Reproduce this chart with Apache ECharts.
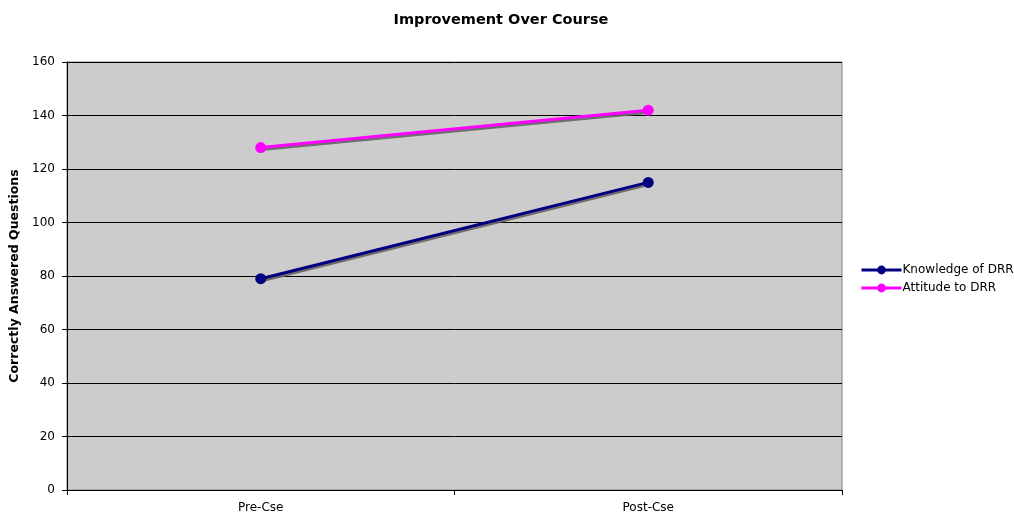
<!DOCTYPE html>
<html>
<head>
<meta charset="utf-8">
<script src="https://cdn.jsdelivr.net/npm/echarts@6/dist/echarts.min.js"></script>
<style>
  html, body { margin: 0; padding: 0; background: #fff; }
  #chart { width: 1014px; height: 514px; }
</style>
</head>
<body>
<div id="chart"></div>
<script>
var categories = ["Pre-Cse", "Post-Cse"];
var knowledge = [79, 115];
var attitude = [128, 142];

var font = "'DejaVu Sans', Verdana, sans-serif";

function lineSeries(name, data, color) {
  return {
    name: name,
    type: "line",
    data: data,
    symbol: "circle",
    symbolSize: 11,
    itemStyle: { color: color },
    lineStyle: {
      color: color,
      width: 3,
      shadowColor: "rgba(100,100,100,0.9)",
      shadowOffsetX: 1,
      shadowOffsetY: 2,
      shadowBlur: 0
    }
  };
}

var chart = echarts.init(document.getElementById("chart"), null, { renderer: "canvas" });
chart.setOption({
  animation: false,
  backgroundColor: "#ffffff",
  title: {
    text: "Improvement Over Course",
    left: 496,
    textAlign: "center",
    top: 8,
    textStyle: { fontFamily: font, fontSize: 14.5, fontWeight: "bold", color: "#000" }
  },
  legend: {
    orient: "vertical",
    left: 855,
    top: 259,
    itemWidth: 40,
    itemHeight: 11,
    itemGap: 6,
    textStyle: { fontFamily: font, fontSize: 12, color: "#000", padding: [0, 0, 0, -4] },
    lineStyle: { width: 3, shadowBlur: 0, shadowOffsetX: 0, shadowOffsetY: 0, shadowColor: "transparent" },
    data: ["Knowledge of DRR", "Attitude to DRR"]
  },
  grid: {
    left: 67,
    right: 172,
    top: 62,
    bottom: 24,
    outerBoundsMode: "none",
    containLabel: false,
    show: true,
    backgroundColor: "#cccccc",
    borderColor: "#808080",
    borderWidth: 1
  },
  xAxis: {
    type: "category",
    data: categories,
    boundaryGap: true,
    axisLine: { lineStyle: { color: "#000", width: 1 } },
    axisTick: { show: true, length: 5, lineStyle: { color: "#000" } },
    axisLabel: { fontFamily: font, fontSize: 12, color: "#000", margin: 12 }
  },
  yAxis: {
    type: "value",
    min: 0,
    max: 160,
    interval: 20,
    name: "Correctly Answered Questions",
    nameLocation: "middle",
    nameGap: 46,
    nameTextStyle: { fontFamily: font, fontSize: 12.5, fontWeight: "bold", color: "#000" },
    axisLine: { show: true, lineStyle: { color: "#000", width: 1 } },
    axisTick: { show: true, length: 5, lineStyle: { color: "#000" } },
    axisLabel: { fontFamily: font, fontSize: 12, color: "#000", margin: 12 },
    splitLine: { show: true, lineStyle: { color: "#000", width: 1 } }
  },
  series: [
    lineSeries("Knowledge of DRR", knowledge, "#000080"),
    lineSeries("Attitude to DRR", attitude, "#ff00ff")
  ]
});
</script>
</body>
</html>
